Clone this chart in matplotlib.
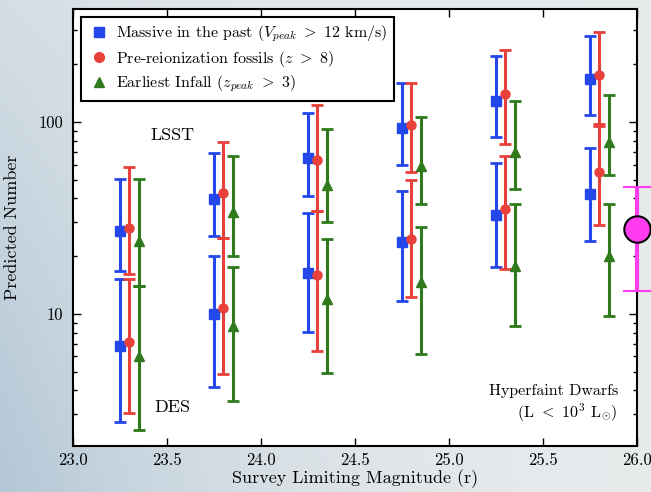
import numpy as np
import matplotlib
matplotlib.use("Agg")
import matplotlib.pyplot as plt
from matplotlib.lines import Line2D
from matplotlib.ticker import FixedLocator, FixedFormatter, LogLocator, NullFormatter

plt.rcParams['font.family'] = ['cmr10', 'DejaVu Serif']
plt.rcParams['mathtext.fontset'] = 'cm'
plt.rcParams['axes.formatter.use_mathtext'] = True

# survey limiting magnitudes (r)
mags = [23.25, 23.75, 24.25, 24.75, 25.25, 25.75]

# "Massive in the past" - upper and lower sets: value, err bottom, err top
blue_hi = [27.1, 39.7, 64.7, 93.3, 129, 167]
blue_hi_bot = [16.7, 25.5, 41.2, 59.7, 83.8, 109]
blue_hi_top = [50.3, 69.2, 111, 160, 221, 282]
blue_lo = [6.84, 10.0, 16.3, 23.6, 32.8, 42.2]
blue_lo_bot = [2.72, 4.18, 8.03, 11.7, 17.5, 24.0]
blue_lo_top = [15.2, 20.0, 33.4, 43.8, 60.9, 72.9]

# "Pre-reionization fossils"
red_hi = [28.1, 42.6, 63.1, 96.4, 140, 176]
red_hi_bot = [16.1, 24.8, 34.3, 55.1, 76.8, 95.3]
red_hi_top = [58.3, 79.1, 123, 160, 237, 294]
red_lo = [7.1, 10.8, 16.0, 24.5, 35.2, 55.1]
red_lo_bot = [3.04, 4.86, 6.42, 12.2, 17.1, 29.1]
red_lo_top = [15.2, 24.8, 34.3, 49.9, 66.7, 97.3]

# "Earliest Infall"
green_hi = [23.9, 34.1, 47, 59, 70, 79.1]
green_hi_bot = [13.9, 20.0, 30.3, 37.4, 44.8, 53.0]
green_hi_top = [50.3, 66.7, 92.2, 106, 129, 139]
green_lo = [6.06, 8.66, 11.9, 14.7, 17.8, 20.0]
green_lo_bot = [2.47, 3.52, 4.94, 6.19, 8.7, 9.8]
green_lo_top = [13.9, 17.6, 24.5, 28.3, 37.3, 37.3]

# observed hyperfaint dwarfs point
obs_x = 26.0
obs_y = 27.6
obs_bot = 13.1
obs_top = 46.0

labels = [r'Massive in the past ($V_{peak}\ >\ 12$ km/s)',
          r'Pre-reionization fossils ($z\ >\ 8$)',
          r'Earliest Infall ($z_{peak}\ >\ 3$)']

series = [
    ('#2447ea', 's', 0.0, [(blue_hi, blue_hi_bot, blue_hi_top), (blue_lo, blue_lo_bot, blue_lo_top)]),
    ('#e8403a', 'o', 0.05, [(red_hi, red_hi_bot, red_hi_top), (red_lo, red_lo_bot, red_lo_top)]),
    ('#2e7a1c', '^', 0.10, [(green_hi, green_hi_bot, green_hi_top), (green_lo, green_lo_bot, green_lo_top)]),
]

fig = plt.figure(figsize=(6.51, 4.92), dpi=100)

# slide-like background gradient
bg = fig.add_axes([0, 0, 1, 1], zorder=-10)
gx, gy = np.meshgrid(np.linspace(0, 1, 200), np.linspace(0, 1, 200))
t = np.clip((1 - gx) ** 2.2 * (0.35 + 0.65 * gy), 0, 1)
light = np.array([0.905, 0.918, 0.925])
bluish = np.array([0.70, 0.78, 0.84])
img = light[None, None, :] * (1 - t[..., None]) + bluish[None, None, :] * t[..., None]
bg.imshow(img, aspect='auto', extent=[0, 1, 0, 1], origin='upper')
bg.axis('off')

ax = fig.add_axes([73 / 651, 46 / 492, 564 / 651, 437 / 492])
ax.set_facecolor('white')

for color, marker, dx, sets in series:
    xs = [m + dx for m in mags]
    for vals, bots, tops in sets:
        v = np.array(vals)
        err = [v - np.array(bots), np.array(tops) - v]
        ax.errorbar(xs, v, yerr=err, fmt=marker, color=color, ms=6.5, mec=color,
                    elinewidth=2.2, capsize=4, capthick=2, zorder=3)

ax.errorbar([obs_x], [obs_y], yerr=[[obs_y - obs_bot], [obs_top - obs_y]], fmt='o',
            color='#ff3cf0', mfc='#ff3cf0', mec='black', mew=1.5, ms=19,
            elinewidth=3, capsize=10, capthick=3, clip_on=False, zorder=5)

ax.set_yscale('log')
ax.set_xlim(23.0, 26.0)
ax.set_ylim(2.05, 388)
ax.set_xticks(np.arange(23.0, 26.01, 0.5))
ax.set_xticklabels(['%.1f' % v for v in np.arange(23.0, 26.01, 0.5)])
ax.yaxis.set_major_locator(FixedLocator([10, 100]))
ax.yaxis.set_major_formatter(FixedFormatter(['10', '100']))
ax.yaxis.set_minor_locator(LogLocator(base=10, subs=np.arange(2, 10)))
ax.yaxis.set_minor_formatter(NullFormatter())
ax.tick_params(which='both', direction='in', top=True, right=True, labelsize=12)
ax.tick_params(axis='x', pad=5)
ax.tick_params(axis='y', pad=7)
ax.tick_params(which='major', length=6, width=1)
ax.tick_params(which='minor', length=3, width=1)
for s in ax.spines.values():
    s.set_linewidth(1.5)

ax.set_xlabel('Survey Limiting Magnitude (r)', fontsize=13, labelpad=1)
ax.set_ylabel('Predicted Number', fontsize=13, labelpad=13)

ax.text(23.53, 85, 'LSST', fontsize=13, ha='center', va='center')
ax.text(23.53, 3.25, 'DES', fontsize=13, ha='center', va='center')
ax.text(0.966, 0.125, 'Hyperfaint Dwarfs', transform=ax.transAxes, fontsize=11.5, ha='right', va='center')
ax.text(0.966, 0.075, r'(L $<$ $10^3$ L$_{\odot}$)', transform=ax.transAxes, fontsize=11.5, ha='right', va='center')

handles = [Line2D([], [], ls='none', marker=m, color=c, mec=c, ms=7) for c, m, _, _ in series]
leg = ax.legend(handles, labels, loc='upper left', fontsize=11.5, numpoints=1, fancybox=False,
                framealpha=1, edgecolor='black', borderaxespad=0.5, handletextpad=0.3,
                labelspacing=0.3, handlelength=1.5)
leg.get_frame().set_linewidth(1.5)

fig.savefig('out.png', dpi=100)
